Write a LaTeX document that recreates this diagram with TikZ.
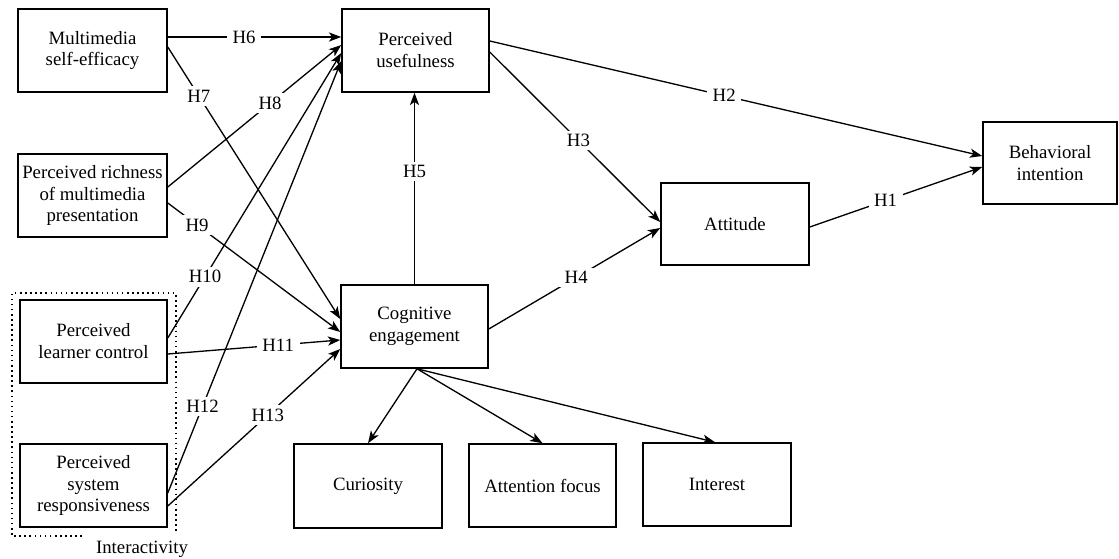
\documentclass[tikz,border=0pt]{standalone}
\usepackage{fontspec}
\setmainfont{Liberation Serif}
\usetikzlibrary{arrows.meta}
\begin{document}
\begin{tikzpicture}[x=0.02cm,y=-0.02cm,
  box/.style={draw,line width=0.9pt,align=center,inner sep=0pt,
    minimum width=2.94cm,minimum height=1.66cm,
    font=\fontsize{10.7}{12.5}\selectfont},
  arr/.style={-{Stealth[length=7pt,width=5.2pt,inset=1.8pt]},line width=0.75pt},
  lbl/.style={fill=white,inner xsep=3.2pt,inner ysep=2pt,font=\fontsize{10.7}{12}\selectfont},
  grp/.style={dotted,line width=0.9pt}]
\useasboundingbox (0,0) rectangle (1119,558);
% boxes
\node[box,minimum width=2.98cm] (mse) at (92.5,50.5) {Multimedia\\self-efficacy};
\node[box,minimum width=2.98cm] (pr) at (92.5,195.5) {Perceived richness\\of multimedia\\presentation};
\node[box] (plc) at (93.5,341.5) {Perceived\\learner control};
\node[box] (psr) at (93.5,485.5) {Perceived\\system\\responsiveness};
\node[box] (pu) at (415.5,50.5) {Perceived\\usefulness};
\node[box] (ce) at (414.5,326.5) {Cognitive\\engagement};
\node[box,minimum width=2.96cm,minimum height=1.64cm] (att) at (735,224) {Attitude};
\node[box,minimum width=2.68cm,minimum height=1.64cm] (bi) at (1050,163) {Behavioral\\intention};
\node[box,minimum width=2.96cm,minimum height=1.68cm] (cur) at (368,486) {Curiosity};
\node[box] (af) at (542.5,485.5) {Attention focus};
\node[box,minimum width=2.96cm] (int) at (717,484.5) {Interest};
% interactivity group
\draw[grp] (82,536) -- (12,536) -- (12,293) -- (176,293) -- (176,534);
\node[font=\fontsize{10.7}{12}\selectfont] (inter) at (142,549) {Interactivity};
% hypotheses
\draw[arr] (mse.east |- 0,37) -- node[lbl,pos=0.44] {H6} (pu.west |- 0,37);
\draw[arr] (mse.east |- 0,47) -- node[lbl,pos=0.18] {H7} (ce.west |- 0,319);
\draw[arr] (pr.east |- 0,187) -- node[lbl,pos=0.59] {H8} (pu.west |- 0,45);
\draw[arr] (pr.east |- 0,203) -- node[lbl,pos=0.17] {H9} (ce.west |- 0,332);
\draw[arr] (plc.east |- 0,338) -- node[lbl,pos=0.215] {H10} (pu.west |- 0,53);
\draw[arr] (plc.east |- 0,354) -- node[lbl,pos=0.64] {H11} (ce.west |- 0,340);
\draw[arr] (psr.east |- 0,493) -- node[lbl,pos=0.20] {H12} (pu.west |- 0,61);
\draw[arr] (psr.east |- 0,506) -- node[lbl,pos=0.58] {H13} (ce.west |- 0,349);
\draw[arr] (ce.north) -- node[lbl,pos=0.59] {H5} (ce.north |- pu.south);
\draw[arr] (pu.east |- 0,52) -- node[lbl,pos=0.52] {H3} (att.west |- 0,222);
\draw[arr] (pu.east |- 0,41) -- node[lbl,pos=0.476] {H2} (bi.west |- 0,156);
\draw[arr] (ce.east |- 0,329) -- node[lbl,pos=0.51] {H4} (att.west |- 0,228);
\draw[arr] (att.east |- 0,227) -- node[lbl,pos=0.44] {H1} (bi.west |- 0,167);
% dimensions of cognitive engagement
\draw[arr] (ce.south -| 417,0) -- (cur.north);
\draw[arr] (ce.south -| 417,0) -- (af.north);
\draw[arr] (ce.south -| 417,0) -- (int.north -| 715,0);
\end{tikzpicture}
\end{document}
